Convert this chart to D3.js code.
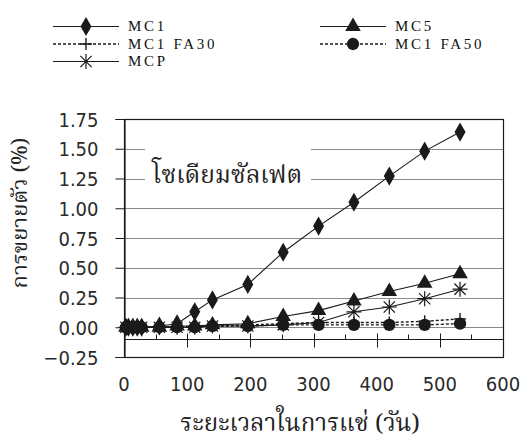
<!DOCTYPE html>
<html>
<head>
<meta charset="utf-8">
<script src="https://cdn.jsdelivr.net/npm/d3@7"></script>
<style>
  html, body { margin: 0; padding: 0; background: #fff; }
  svg { display: block; }
  .tick-label { font-family: "DejaVu Sans Condensed", "DejaVu Sans", sans-serif; font-size: 20px; fill: #2a2a2a; }
  .legend-label { font-family: "Liberation Serif", "Times New Roman", serif; font-size: 15px; letter-spacing: 2.7px; fill: #111; }
  .thai { font-family: "Noto Serif Thai", "Loma", "Garuda", "Norasi", "Kinnari", "Noto Sans Thai Looped", "Noto Sans Thai", "Noto Sans", sans-serif; fill: #222; }
</style>
</head>
<body>
<svg id="chart" width="523" height="443"></svg>
<script>
// Immersion time (days)
const days = [3, 7, 14, 21, 28, 56, 84, 112, 140, 196, 252, 308, 364, 420, 476, 532];

// Expansion (%) for each mix
const mc1     = [0, 0, 0, 0, 0, 0.01, 0.03, 0.13, 0.23, 0.36, 0.63, 0.85, 1.05, 1.27, 1.48, 1.64];
const mc5     = [0, 0, 0, 0, 0, 0, 0.01, 0.01, 0.02, 0.03, 0.09, 0.14, 0.22, 0.30, 0.37, 0.45];
const mc1fa30 = [0, 0, 0, 0, 0, 0, 0, 0.01, 0.01, 0.02, 0.03, 0.04, 0.04, 0.04, 0.05, 0.07];
const mc1fa50 = [0, 0, 0, 0, 0, 0, 0, 0, 0.01, 0.01, 0.02, 0.02, 0.02, 0.02, 0.02, 0.03];
const mcp     = [0, 0, 0, 0, 0, 0, 0, 0, 0.01, 0.01, 0.02, 0.04, 0.13, 0.17, 0.24, 0.32];

const seriesNames = ["MC1", "MC5", "MC1 FA30", "MC1 FA50", "MCP"];
const yTicks = [-0.25, 0, 0.25, 0.5, 0.75, 1.0, 1.25, 1.5, 1.75];
const xTicks = [0, 100, 200, 300, 400, 500, 600];
const xMinorTicks = [50, 150, 250, 350, 450, 550];

const yTitle = "การขยายตัว (%)";
const xTitle = "ระยะเวลาในการแช่ (วัน)";
const annotation = "โซเดียมซัลเฟต";

const series = [
  { name: seriesNames[0], values: mc1,     marker: "diamond",  dashed: false },
  { name: seriesNames[1], values: mc5,     marker: "triangle", dashed: false },
  { name: seriesNames[2], values: mc1fa30, marker: "plus",     dashed: true  },
  { name: seriesNames[3], values: mc1fa50, marker: "circle",   dashed: true  },
  { name: seriesNames[4], values: mcp,     marker: "star",     dashed: false }
];

const svg = d3.select("#chart");
const plot = { left: 124, right: 503, top: 119, bottom: 357 };

const x = d3.scaleLinear().domain([0, 600]).range([plot.left, plot.right]);
const y = d3.scaleLinear().domain([-0.25, 1.75]).range([plot.bottom, plot.top]);
const axisValue = -0.1; // horizontal axis crossing

const ink = "#1a1a1a";

// gridlines
svg.append("g").selectAll("line").data(yTicks.filter(v => v > -0.25 && v < 1.75)).join("line")
  .attr("x1", plot.left).attr("x2", plot.right)
  .attr("y1", d => Math.round(y(d)) + 0.5).attr("y2", d => Math.round(y(d)) + 0.5)
  .attr("stroke", "#8a8a8a").attr("stroke-width", 1);

// plot frame
svg.append("rect")
  .attr("x", plot.left + 0.5).attr("y", plot.top + 0.5)
  .attr("width", plot.right - plot.left).attr("height", plot.bottom - plot.top)
  .attr("fill", "none").attr("stroke", ink).attr("stroke-width", 1.2);

// y axis
const yAxis = d3.axisLeft(y).tickValues(yTicks).tickSize(9).tickPadding(17)
  .tickFormat(d3.format(".2f"));
const gy = svg.append("g").attr("transform", `translate(${plot.left + 0.5},0)`).call(yAxis);
gy.select(".domain").attr("stroke", ink).attr("stroke-width", 1.2);
gy.selectAll(".tick line").attr("stroke", ink);
gy.selectAll(".tick text").attr("class", "tick-label").attr("dy", "0.36em");

// x axis crossing at axisValue
const yAx = Math.round(y(axisValue)) + 0.5;
svg.append("line").attr("x1", plot.left).attr("x2", plot.right)
  .attr("y1", yAx).attr("y2", yAx).attr("stroke", ink).attr("stroke-width", 1.2);
svg.append("g").selectAll("line").data(xTicks.filter(v => v > 0 && v < 600)).join("line")
  .attr("x1", d => Math.round(x(d)) + 0.5).attr("x2", d => Math.round(x(d)) + 0.5)
  .attr("y1", yAx - 6).attr("y2", yAx + 8).attr("stroke", ink);
svg.append("g").selectAll("line").data(xMinorTicks).join("line")
  .attr("x1", d => Math.round(x(d)) + 0.5).attr("x2", d => Math.round(x(d)) + 0.5)
  .attr("y1", yAx - 5).attr("y2", yAx).attr("stroke", ink);
svg.append("g").selectAll("text").data(xTicks).join("text")
  .attr("class", "tick-label")
  .attr("x", d => x(d)).attr("y", 391)
  .attr("text-anchor", "middle").text(d => d);

// annotation inside the plot
const annG = svg.append("g");
annG.append("rect").attr("x", 145).attr("y", 140).attr("width", 166).attr("height", 55).attr("fill", "#fff");
annG.append("text").attr("class", "thai").attr("x", 227).attr("y", 183)
  .attr("text-anchor", "middle").attr("font-size", 24.5).text(annotation);

// marker shapes
const symbolFor = {
  diamond: d3.symbol().type(d3.symbolDiamond).size(105),
  triangle: d3.symbol().type(d3.symbolTriangle).size(105),
  circle: d3.symbol().type(d3.symbolCircle).size(120),
};
function drawMarker(g, kind, cx, cy) {
  if (kind === "plus") {
    g.append("path").attr("d", `M${cx - 6},${cy}H${cx + 6}M${cx},${cy - 6}V${cy + 6}`)
      .attr("stroke", ink).attr("stroke-width", 1.4).attr("fill", "none");
  } else if (kind === "star") {
    const r = 7.5;
    let d = `M${cx - r},${cy}H${cx + r}M${cx},${cy - r}V${cy + r}`;
    const k = r * 0.75;
    d += `M${cx - k},${cy - k}L${cx + k},${cy + k}M${cx - k},${cy + k}L${cx + k},${cy - k}`;
    g.append("path").attr("d", d).attr("stroke", ink).attr("stroke-width", 1.2).attr("fill", "none");
  } else {
    g.append("path").attr("d", symbolFor[kind]()).attr("transform", `translate(${cx},${cy})`)
      .attr("fill", ink);
  }
}

const line = d3.line().x(d => x(d[0])).y(d => y(d[1]));

// draw in reverse so MC1 sits on top
[...series].reverse().forEach(s => {
  const pts = days.map((d, i) => [d, s.values[i]]);
  const g = svg.append("g");
  g.append("path").attr("d", line(pts)).attr("fill", "none")
    .attr("stroke", ink).attr("stroke-width", s.dashed ? 1.4 : 1.1)
    .attr("stroke-dasharray", s.dashed ? "3,2" : null);
  pts.forEach(p => drawMarker(g, s.marker, x(p[0]), y(p[1])));
});

// legend
const legendPos = [
  { x: 53, y: 26 }, { x: 320, y: 26 },
  { x: 53, y: 43.5 }, { x: 320, y: 43.5 },
  { x: 53, y: 61 }
];
series.forEach((s, i) => {
  const p = legendPos[i];
  const g = svg.append("g");
  g.append("line").attr("x1", p.x).attr("x2", p.x + 66).attr("y1", p.y + 0.5).attr("y2", p.y + 0.5)
    .attr("stroke", ink).attr("stroke-width", s.dashed ? 1.3 : 1.1)
    .attr("stroke-dasharray", s.dashed ? "3,2" : null);
  drawMarker(g, s.marker, p.x + 33, p.y + 0.5);
  g.append("text").attr("class", "legend-label").attr("x", p.x + 75).attr("y", p.y + 5).text(s.name);
});

// axis titles
svg.append("text").attr("class", "thai").attr("font-size", 22)
  .attr("transform", "translate(27,213) rotate(-90)")
  .attr("text-anchor", "middle").text(yTitle);
svg.append("text").attr("class", "thai").attr("font-size", 24)
  .attr("x", 300).attr("y", 431).attr("text-anchor", "middle").text(xTitle);
</script>
</body>
</html>
